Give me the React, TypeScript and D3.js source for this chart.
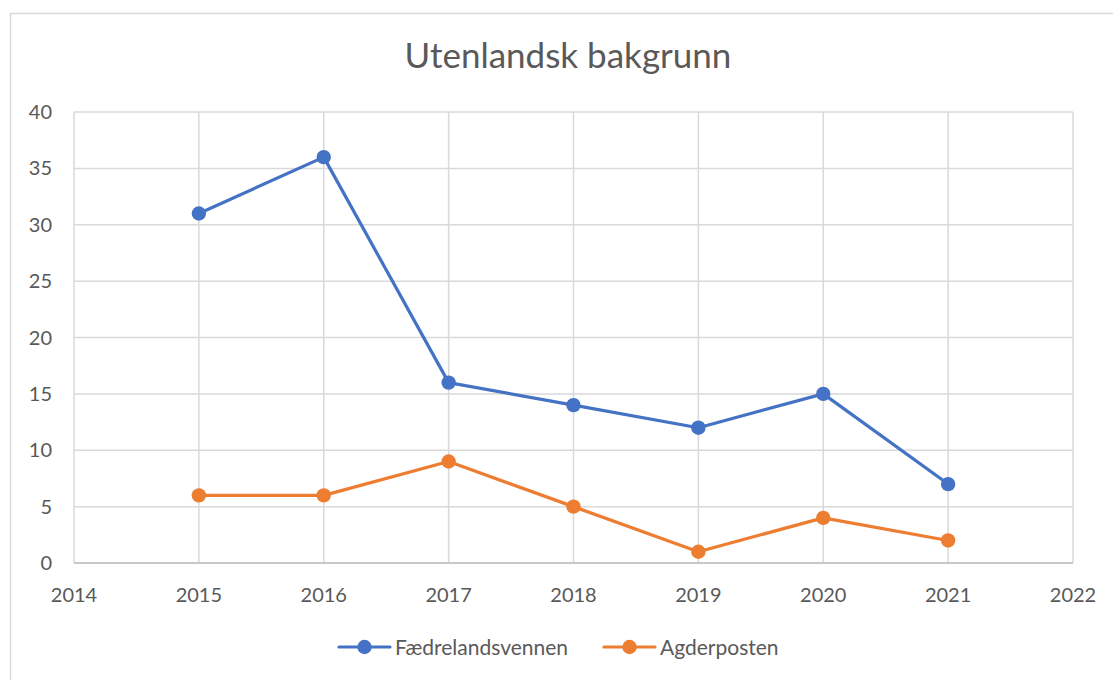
import React from "react";
import * as d3 from "d3";

const years = [2015, 2016, 2017, 2018, 2019, 2020, 2021];
const faedrelandsvennen = [31, 36, 16, 14, 12, 15, 7];
const agderposten = [6, 6, 9, 5, 1, 4, 2];
const xTicks = [2014, 2015, 2016, 2017, 2018, 2019, 2020, 2021, 2022];
const yTicks = [0, 5, 10, 15, 20, 25, 30, 35, 40];
const seriesNames = ["Fædrelandsvennen", "Agderposten"];
const seriesColors = ["#4472C4", "#ED7D31"];

const W = 1113;
const H = 680;
const font = "Lato, sans-serif";
const textColor = "#595959";

export default function App() {
  const x = d3.scaleLinear().domain([2014, 2022]).range([74, 1073]);
  const y = d3.scaleLinear().domain([0, 40]).range([563, 112]);
  const line = d3
    .line<[number, number]>()
    .x((d) => x(d[0]))
    .y((d) => y(d[1]));
  const series = [faedrelandsvennen, agderposten];
  const legendX = [339, 604];

  return (
    <svg
      width={W}
      height={H}
      style={{ position: "absolute", left: 0, top: 0, background: "#fff" }}
      fontFamily={font}
    >
      <rect x={10.5} y={13.5} width={W + 10} height={H} fill="#fff" stroke="#d9d9d9" strokeWidth={1.5} />
      <text x={568} y={68} textAnchor="middle" fontSize={35} fill={textColor}>
        Utenlandsk bakgrunn
      </text>
      {yTicks.map((t) => (
        <g key={"y" + t}>
          <line x1={74} x2={1073} y1={y(t)} y2={y(t)} stroke="#d9d9d9" strokeWidth={1.5} />
          <text x={52} y={y(t) + 7} textAnchor="end" fontSize={20} fill={textColor}>
            {t}
          </text>
        </g>
      ))}
      {xTicks.map((t) => (
        <g key={"x" + t}>
          <line x1={x(t)} x2={x(t)} y1={112} y2={563} stroke="#d9d9d9" strokeWidth={1.5} />
          <text x={x(t)} y={602} textAnchor="middle" fontSize={20} fill={textColor}>
            {t}
          </text>
        </g>
      ))}
      <line x1={74} x2={1073} y1={563} y2={563} stroke="#bfbfbf" strokeWidth={1.5} />
      {series.map((vals, i) => {
        const pts = years.map((yr, j) => [yr, vals[j]] as [number, number]);
        return (
          <g key={"s" + i}>
            <path d={line(pts) || ""} fill="none" stroke={seriesColors[i]} strokeWidth={3.2} strokeLinejoin="round" strokeLinecap="round" />
            {pts.map((p, j) => (
              <circle key={j} cx={x(p[0])} cy={y(p[1])} r={7.2} fill={seriesColors[i]} />
            ))}
          </g>
        );
      })}
      {seriesNames.map((name, i) => (
        <g key={"l" + i}>
          <line x1={legendX[i]} x2={legendX[i] + 51} y1={647} y2={647} stroke={seriesColors[i]} strokeWidth={3.2} strokeLinecap="round" />
          <circle cx={legendX[i] + 25.5} cy={647} r={7.2} fill={seriesColors[i]} />
          <text x={legendX[i] + 56} y={655} fontSize={21} fill={textColor}>
            {name}
          </text>
        </g>
      ))}
    </svg>
  );
}
